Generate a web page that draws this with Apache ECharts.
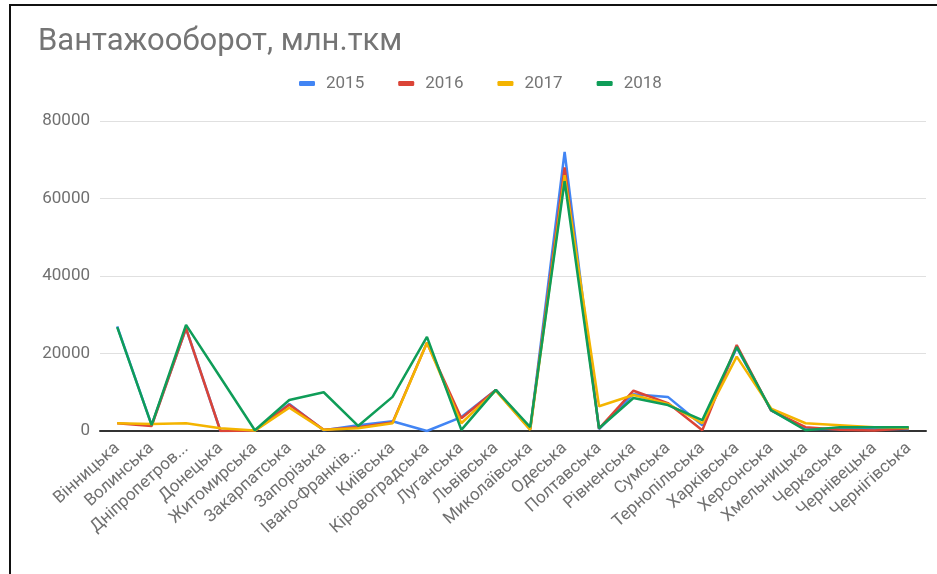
<!DOCTYPE html>
<html>
<head>
<meta charset="utf-8">
<script src="https://cdn.jsdelivr.net/npm/echarts@6/dist/echarts.min.js"></script>
<style>
  html, body { margin: 0; padding: 0; background: #fff; }
  #wrap { position: relative; width: 937px; height: 574px; }
  #chart { position: absolute; left: 0; top: 0; width: 937px; height: 574px; }
  #frame { position: absolute; left: 9px; top: 4px; right: 0; bottom: 0; border-top: 2px solid #111; border-left: 2px solid #111; pointer-events: none; }
</style>
</head>
<body>
<div id="wrap">
  <div id="chart"></div>
  <div id="frame"></div>
</div>
<script>
const regions = [
  'Вінницька', 'Волинська', 'Дніпропетров...', 'Донецька', 'Житомирська', 'Закарпатська',
  'Запорізька', 'Івано-Франків...', 'Київська', 'Кіровоградська', 'Луганська', 'Львівська',
  'Миколаївська', 'Одеська', 'Полтавська', 'Рівненська', 'Сумська', 'Тернопільська',
  'Харківська', 'Херсонська', 'Хмельницька', 'Черкаська', 'Чернівецька', 'Чернігівська',
];

const v2015 = [27000, 1500, 26500, 0, 100, 7000, 200, 1500, 2500, 0, 3600, 10600, 500, 72000, 500, 9500, 8800, 1500, 21500, 5300, 500, 500, 500, 500];
const v2016 = [2000, 1300, 26500, 0, 100, 6800, 300, 1000, 2200, 22800, 3300, 10600, 500, 68000, 600, 10400, 7200, 200, 22200, 5300, 1000, 300, 100, 700];
const v2017 = [2000, 1800, 2000, 700, 100, 6000, 300, 700, 2000, 22800, 2000, 10400, 300, 66000, 6400, 9300, 7000, 2000, 19200, 5800, 2000, 1500, 1000, 800];
const v2018 = [26800, 1500, 27400, 13800, 200, 8000, 10000, 1300, 8800, 24300, 300, 10600, 1000, 64500, 700, 8500, 6700, 2800, 21700, 5400, 200, 1000, 1000, 1000];

const yearNames = ['2015', '2016', '2017', '2018'];
const colors = ['#4285F4', '#DB4437', '#F4B400', '#0F9D58'];

const chart = echarts.init(document.getElementById('chart'));
const seriesData = [v2015, v2016, v2017, v2018];

chart.setOption({
  animation: false,
  color: colors,
  textStyle: { fontFamily: 'Roboto, sans-serif' },
  title: {
    text: 'Вантажооборот, млн.ткм',
    left: 33,
    top: 22,
    textStyle: { fontSize: 31, fontWeight: 'normal', color: '#757575', fontFamily: 'Roboto, sans-serif' },
  },
  legend: {
    top: 70,
    left: 294,
    itemGap: 34,
    itemWidth: 16,
    itemHeight: 5,
    icon: 'roundRect',
    textStyle: { fontSize: 17, color: '#757575', padding: [0, 0, 0, 6] },
    data: yearNames,
  },
  grid: { left: 100, right: 11, top: 121, bottom: 143 },
  xAxis: {
    type: 'category',
    data: regions,
    boundaryGap: true,
    axisLine: { lineStyle: { color: '#333', width: 2 } },
    axisTick: { show: false },
    axisLabel: { rotate: 42, color: '#707070', fontSize: 17, interval: 0, margin: 15 },
  },
  yAxis: {
    type: 'value',
    min: 0,
    max: 80000,
    interval: 20000,
    axisLine: { show: false },
    axisTick: { show: false },
    axisLabel: { color: '#707070', fontSize: 17, margin: 10, formatter: (v) => String(v) },
    splitLine: { lineStyle: { color: '#e0e0e0', width: 1 } },
  },
  series: yearNames.map((name, i) => ({
    name,
    type: 'line',
    data: seriesData[i],
    symbol: 'none',
    lineStyle: { width: 2.5 },
  })),
});
</script>
</body>
</html>
